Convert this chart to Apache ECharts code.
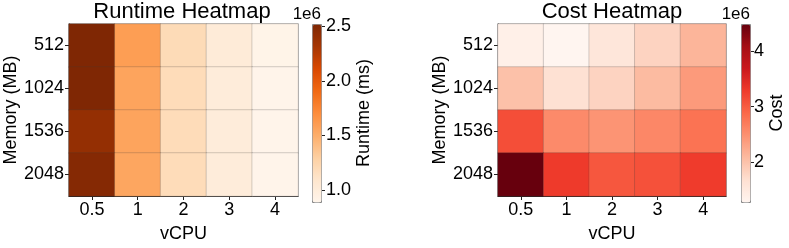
<!DOCTYPE html>
<html><head><meta charset="utf-8">
<script src="https://cdn.jsdelivr.net/npm/echarts@6/dist/echarts.min.js"></script>
<style>html,body{margin:0;padding:0;background:#fff}#c{width:789px;height:248px}</style>
</head><body><div id="c"></div>
<script>
// Categories
const vcpu = ['0.5', '1', '2', '3', '4'];
const memory = ['512', '1024', '1536', '2048'];
// Runtime (x1e6 ms), rows = memory, cols = vcpu
const runtime512  = [2.52, 1.60, 1.20, 1.02, 0.91];
const runtime1024 = [2.52, 1.56, 1.19, 1.01, 0.90];
const runtime1536 = [2.41, 1.56, 1.19, 1.01, 0.90];
const runtime2048 = [2.49, 1.55, 1.19, 1.01, 0.90];
// Cost (x1e6)
const cost512  = [1.39, 1.29, 1.58, 1.83, 2.15];
const cost1024 = [2.02, 1.67, 1.83, 2.09, 2.41];
const cost1536 = [3.12, 2.57, 2.47, 2.60, 2.80];
const cost2048 = [4.48, 3.30, 3.05, 3.10, 3.28];
// Colorbar ranges and tick labels
const runtimeRange = [0.89, 2.52];
const costRange = [1.29, 4.48];
const runtimeTicks = [1.0, 1.5, 2.0, 2.5];
const costTicks = [2, 3, 4];

const runtimeRows = [runtime512, runtime1024, runtime1536, runtime2048];
const costRows = [cost512, cost1024, cost1536, cost2048];
function toCells(rows) {
  const out = [];
  rows.forEach((r, yi) => r.forEach((v, xi) => out.push([xi, yi, v])));
  return out;
}
const oranges = ['#fff5eb','#fee6ce','#fdd0a2','#fdae6b','#fd8d3c','#f16913','#d94801','#a63603','#7f2704'];
const reds = ['#fff5f0','#fee0d2','#fcbba1','#fc9272','#fb6a4a','#ef3b2c','#cb181d','#a50f15','#67000d'];

const FONT = 'Liberation Sans, Arial, sans-serif';
const TXT = '#000';
const txt = (s) => ({ color: TXT, fontFamily: FONT, fontSize: s });

const plots = [
  { left: 69, right: 298, cb: 312 },
  { left: 498, right: 726, cb: 741 }
];
const TOP = 24, H = 178;

function heatX(gi) {
  return {
    type: 'category', gridIndex: gi, data: vcpu, position: 'bottom',
    name: 'vCPU', nameLocation: 'middle', nameGap: 29, nameTextStyle: txt(18),
    axisLine: { show: true, lineStyle: { color: '#222', width: 1.2 } },
    axisTick: { show: true, alignWithLabel: true, length: 4, lineStyle: { color: '#222' } },
    axisLabel: Object.assign({ margin: 5 }, txt(18)),
    splitLine: { show: false }
  };
}
function heatY(gi) {
  return {
    type: 'category', gridIndex: gi, data: memory, inverse: true,
    name: 'Memory (MB)', nameLocation: 'middle', nameGap: 48, nameRotate: 90, nameTextStyle: txt(18),
    axisLine: { show: true, lineStyle: { color: '#222', width: 1.2 } },
    axisTick: { show: true, alignWithLabel: true, length: 4, lineStyle: { color: '#222' } },
    axisLabel: Object.assign({ margin: 5 }, txt(18)),
    splitLine: { show: false }
  };
}

const option = {
  animation: false,
  backgroundColor: '#fff',
  title: [
    { text: 'Runtime Heatmap', left: 182, top: 1, textAlign: 'center', padding: 0, textStyle: Object.assign({ fontWeight: 'normal' }, txt(22)) },
    { text: 'Cost Heatmap', left: 612, top: 1, textAlign: 'center', padding: 0, textStyle: Object.assign({ fontWeight: 'normal' }, txt(22)) },
    { text: '1e6', right: 789 - 321, top: 6, padding: 0, textStyle: Object.assign({ fontWeight: 'normal' }, txt(17)) },
    { text: '1e6', right: 789 - 750, top: 6, padding: 0, textStyle: Object.assign({ fontWeight: 'normal' }, txt(17)) }
  ],
  grid: [
    { left: plots[0].left, top: TOP, width: plots[0].right - plots[0].left, height: H, show: true, borderColor: '#888', borderWidth: 1.2, backgroundColor: 'transparent' },
    { left: plots[1].left, top: TOP, width: plots[1].right - plots[1].left, height: H, show: true, borderColor: '#888', borderWidth: 1.2, backgroundColor: 'transparent' },
    { left: plots[0].cb, top: TOP, width: 9, height: H },
    { left: plots[1].cb, top: TOP, width: 9, height: H }
  ],
  xAxis: [
    heatX(0), heatX(1),
    { type: 'category', gridIndex: 2, data: [''], show: false },
    { type: 'category', gridIndex: 3, data: [''], show: false }
  ],
  yAxis: [
    heatY(0), heatY(1),
    {
      type: 'value', gridIndex: 2, position: 'right', min: runtimeRange[0], max: runtimeRange[1],
      name: 'Runtime (ms)', nameLocation: 'middle', nameRotate: 90, nameGap: 32, nameTextStyle: txt(18),
      axisLine: { show: false }, splitLine: { show: false },
      axisTick: { show: true, length: 4, customValues: runtimeTicks, lineStyle: { color: '#222' } },
      axisLabel: Object.assign({ margin: 5, customValues: runtimeTicks, formatter: v => Number(v).toFixed(1) }, txt(18))
    },
    {
      type: 'value', gridIndex: 3, position: 'right', min: costRange[0], max: costRange[1],
      name: 'Cost', nameLocation: 'middle', nameRotate: 90, nameGap: 18, nameTextStyle: txt(18),
      axisLine: { show: false }, splitLine: { show: false },
      axisTick: { show: true, length: 4, customValues: costTicks, lineStyle: { color: '#222' } },
      axisLabel: Object.assign({ margin: 4, customValues: costTicks, formatter: v => String(v) }, txt(18))
    }
  ],
  visualMap: [
    { type: 'continuous', seriesIndex: 0, min: runtimeRange[0], max: runtimeRange[1], calculable: false,
      left: plots[0].cb, top: TOP, itemWidth: 9, itemHeight: H, padding: 0, text: null, showLabel: false,
      inRange: { color: oranges }, borderColor: '#888', borderWidth: 1, hoverLink: false },
    { type: 'continuous', seriesIndex: 1, min: costRange[0], max: costRange[1], calculable: false,
      left: plots[1].cb, top: TOP, itemWidth: 9, itemHeight: H, padding: 0, text: null, showLabel: false,
      inRange: { color: reds }, borderColor: '#888', borderWidth: 1, hoverLink: false }
  ],
  series: [
    { type: 'heatmap', xAxisIndex: 0, yAxisIndex: 0, data: toCells(runtimeRows),
      itemStyle: { borderColor: 'rgba(60,60,60,0.35)', borderWidth: 0.6 } },
    { type: 'heatmap', xAxisIndex: 1, yAxisIndex: 1, data: toCells(costRows),
      itemStyle: { borderColor: 'rgba(60,60,60,0.35)', borderWidth: 0.6 } }
  ]
};
echarts.init(document.getElementById('c'), null, { renderer: 'canvas' }).setOption(option);
</script></body></html>
